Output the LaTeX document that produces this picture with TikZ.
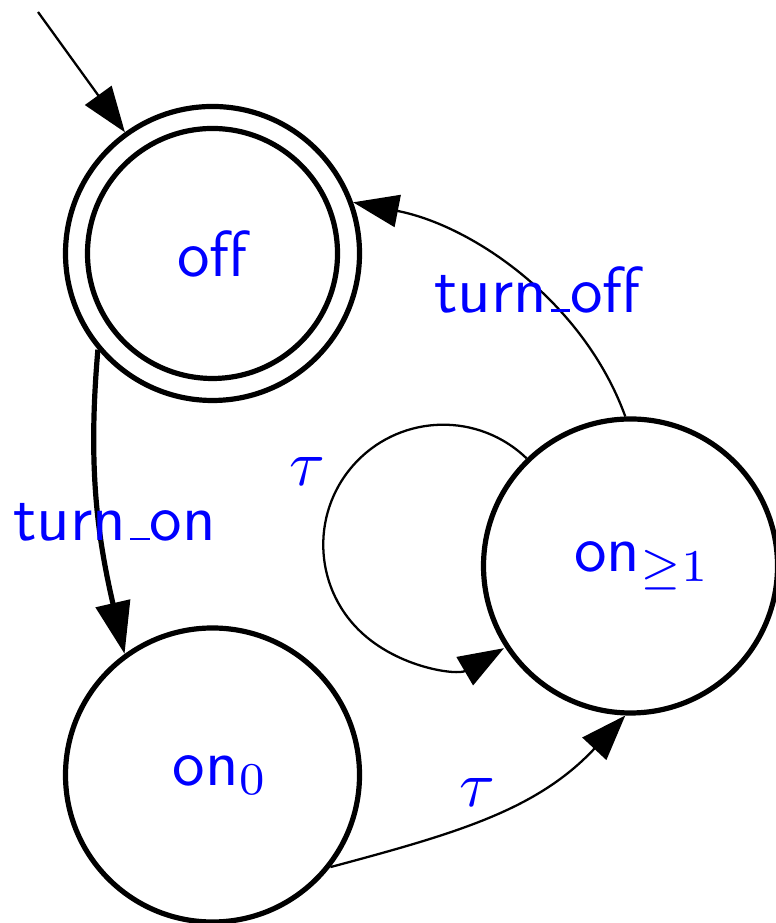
\documentclass[tikz,border=0pt]{standalone}
\usetikzlibrary{arrows.meta}
\newcommand\usc{\leavevmode\kern.06em\vbox{\hrule width.3em height.4pt}}
\begin{document}
\begin{tikzpicture}[x=0.153846pt, y=0.153846pt,
  state/.style={circle, draw, line width=0.8pt, minimum size=45.23pt, inner sep=0pt, font=\sffamily, text=blue},
  lab/.style={font=\sffamily, text=blue, inner sep=0pt},
  thinedge/.style={line width=0.35pt, -{Triangle[length=7pt,width=5pt]}},
  thickedge/.style={line width=0.8pt, -{Triangle[length=8pt,width=5.3pt]}}]
\useasboundingbox (0,0) rectangle (776,923);
% states
\node[state] (off) at (212.5,669.5) {off};
\draw[line width=0.8pt] (off.center) circle[radius=19.23pt];
\node[state] (on0) at (212.5,148) {\hspace*{2.4pt}on$_0$};
\node[state] (on1) at (630.5,357) {\hspace*{3.6pt}on$_{\geq 1}$};
% initial arrow
\coordinate (init) at (38,911);
\draw[thinedge] (init) -- (off);
% transitions
\draw[thickedge] (off.220.4) to[out=265, in=103] (on0.126.8);
\draw[thinedge] (on1.92.9) to[out=110, in=-11, looseness=0.9] (off.20.9);
\draw[thinedge] (on0.-38.8) to[out=15, in=227] (on1.268.5);
\draw[thinedge] (on1.134) arc[start angle=46, delta angle=254.4, radius=18.46pt];
% labels
\node[lab] (lturnoff) at (537.5,633.5) {turn\usc off};
\node[lab] (lturnon) at (114.5,401) {turn\usc on};
\node[lab] (ltauloop) at (307.5,451.5) {$\tau$};
\node[lab] (ltau) at (477,130.5) {$\tau$};
\end{tikzpicture}
\end{document}
